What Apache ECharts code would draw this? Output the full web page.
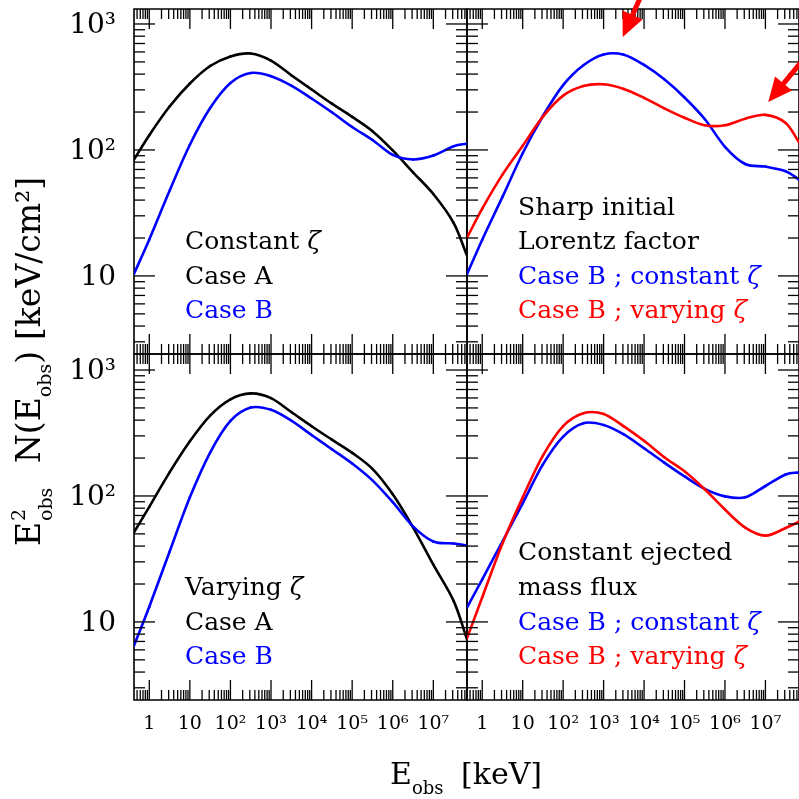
<!DOCTYPE html>
<html><head><meta charset="utf-8">
<script src="https://cdn.jsdelivr.net/npm/echarts@6/dist/echarts.min.js"></script>
<style>html,body{margin:0;padding:0;background:#fff;}#c{width:799px;height:799px;}</style>
</head><body><div id="c"></div>
<script>
// Observed energy grid (keV), half-decade steps
const energy = [0.42, 1, 3.16, 10, 31.6, 100, 316, 1000, 3160, 1e4, 3.16e4, 1e5, 3.16e5, 1e6, 3.16e6, 1e7, 3.16e7, 6.76e7];
// Top-left: constant zeta
const constZetaCaseA = [83.8, 131, 221, 337, 464, 553, 583, 512, 392, 302, 233, 183, 141, 99.3, 66.5, 44.7, 26.4, 14.5];
const constZetaCaseB = [10.4, 19.5, 47.4, 110, 215, 340, 408, 385, 324, 256, 199, 152, 120, 91.4, 84.1, 90.2, 107, 112];
// Top-right: sharp initial Lorentz factor
const sharpConstZeta = [10.3, 19.4, 42.4, 94.2, 186, 327, 470, 573, 571, 473, 364, 261, 176, 106, 77.4, 73.8, 67.8, 58.2];
const sharpVaryZeta = [20.1, 34.2, 63.7, 108, 184, 270, 322, 332, 305, 259, 214, 180, 157, 157, 177, 190, 164, 115];
// Bottom-left: varying zeta
const varyZetaCaseA = [51.5, 82, 154, 272, 435, 585, 652, 598, 464, 358, 280, 220, 164, 103, 56.4, 28.5, 14.7, 7.3];
const varyZetaCaseB = [6.49, 13.2, 36.1, 97.5, 221, 394, 503, 483, 396, 305, 235, 181, 133, 89.3, 57.4, 43.5, 42, 40.4];
// Bottom-right: constant ejected mass flux
const massFluxConstZeta = [13.0, 21.8, 43.5, 87.5, 178, 296, 378, 366, 308, 239, 184, 143, 114, 99.3, 97.5, 120, 148, 154];
const massFluxVaryZeta = [7.41, 15.7, 41.9, 97.5, 209, 359, 454, 448, 357, 274, 203, 157, 113, 78, 56.1, 48.4, 55.7, 62.5];

// Arrows in the top-right panel (data coords): [tailE, tailF, headE, headF]
const arrowPeak = [9772, 1862, 2972, 790];
const arrowBump = [1.12e8, 578, 1.175e7, 240];

// Tick values and labels
const xMajorTicks = [1, 10, 100, 1e3, 1e4, 1e5, 1e6, 1e7];
const xTickLabels = ['1', '10', '10²', '10³', '10⁴', '10⁵', '10⁶', '10⁷'];
const xDecades = [0.1, 1, 10, 100, 1e3, 1e4, 1e5, 1e6, 1e7];
const yMajorTicks = [10, 100, 1000];
const yTickLabels = ['10', '10²', '10³'];
const yDecades = [1, 10, 100, 1000];
const minorSteps = [2, 3, 4, 5, 6, 7, 8, 9];

const X_MIN = 0.42, X_MAX = 6.76e7, Y_MIN = 2.4;
const BLACK = '#000000', BLUE = '#0000ff', RED = '#ff0000';
const SERIF = '"DejaVu Serif"';

const panels = [
  {left: 134, top: 9, height: 345, yMax: 1315, xLab: false, yLab: true,
   lines: [[constZetaCaseA, BLACK], [constZetaCaseB, BLUE]]},
  {left: 467, top: 9, height: 345, yMax: 1315, xLab: false, yLab: false,
   lines: [[sharpConstZeta, BLUE], [sharpVaryZeta, RED]], arrows: [arrowPeak, arrowBump]},
  {left: 134, top: 354, height: 346, yMax: 1340, xLab: true, yLab: true,
   lines: [[varyZetaCaseA, BLACK], [varyZetaCaseB, BLUE]]},
  {left: 467, top: 354, height: 346, yMax: 1340, xLab: true, yLab: false,
   lines: [[massFluxConstZeta, BLUE], [massFluxVaryZeta, RED]]}
];

function buildTicks(yMax) {
  const t = [];
  xMajorTicks.forEach((v, i) => t.push({axis: 'x', v: v, major: true, label: xTickLabels[i]}));
  xDecades.forEach(d => minorSteps.forEach(m => {
    const v = d * m; if (v >= X_MIN && v <= X_MAX) t.push({axis: 'x', v: v, major: false});
  }));
  yMajorTicks.forEach((v, i) => t.push({axis: 'y', v: v, major: true, label: yTickLabels[i]}));
  yDecades.forEach(d => minorSteps.forEach(m => {
    const v = d * m; if (v >= Y_MIN && v <= yMax) t.push({axis: 'y', v: v, major: false});
  }));
  return t;
}

// Smooth curve through the data points (Catmull-Rom segments placed with the axes' own scale)
function curveSeries(i, arr, col) {
  const n = energy.length;
  return {type: 'custom', xAxisIndex: i, yAxisIndex: i, silent: true, clip: true, z: 3,
    data: energy.map((e, j) => [e, arr[j]]),
    renderItem: function (params, api) {
      const j = params.dataIndex;
      if (j >= n - 1) return null;
      const P = k => api.coord([energy[k], arr[k]]);
      const p1 = P(j), p2 = P(j + 1);
      const p0 = j > 0 ? P(j - 1) : [2 * p1[0] - p2[0], 2 * p1[1] - p2[1]];
      const p3 = j + 2 < n ? P(j + 2) : [2 * p2[0] - p1[0], 2 * p2[1] - p1[1]];
      return {type: 'bezierCurve', shape: {
          x1: p1[0], y1: p1[1], x2: p2[0], y2: p2[1],
          cpx1: p1[0] + (p2[0] - p0[0]) / 6, cpy1: p1[1] + (p2[1] - p0[1]) / 6,
          cpx2: p2[0] - (p3[0] - p1[0]) / 6, cpy2: p2[1] - (p3[1] - p1[1]) / 6},
        style: {stroke: col, lineWidth: 2.6, fill: null, lineCap: 'round'}};
    }};
}

const grid = [], xAxis = [], yAxis = [], series = [];
panels.forEach((p, i) => {
  grid.push({left: p.left, top: p.top, width: 333, height: p.height, show: true,
    borderColor: '#000', borderWidth: 1.6, backgroundColor: 'transparent'});
  xAxis.push({type: 'log', gridIndex: i, min: X_MIN, max: X_MAX, logBase: 10,
    axisLine: {show: false}, axisTick: {show: false}, axisLabel: {show: false}, splitLine: {show: false}});
  yAxis.push({type: 'log', gridIndex: i, min: Y_MIN, max: p.yMax, logBase: 10,
    axisLine: {show: false}, axisTick: {show: false}, axisLabel: {show: false}, splitLine: {show: false}});
  p.lines.forEach(([arr, col]) => series.push(curveSeries(i, arr, col)));
  if (p.arrows) {
    series.push({type: 'custom', xAxisIndex: i, yAxisIndex: i, silent: true, clip: false, z: 6,
      data: p.arrows,
      renderItem: function (params, api) {
        const t = api.coord([api.value(0), api.value(1)]);
        const h = api.coord([api.value(2), api.value(3)]);
        const dx = h[0] - t[0], dy = h[1] - t[1];
        const len = Math.sqrt(dx * dx + dy * dy), ux = dx / len, uy = dy / len;
        const AL = 24, AW = 11;
        const bx = h[0] - ux * AL, by = h[1] - uy * AL;
        return {type: 'group', children: [
          {type: 'line', shape: {x1: t[0], y1: t[1], x2: bx + ux * 2, y2: by + uy * 2},
           style: {stroke: RED, lineWidth: 5}},
          {type: 'polygon', shape: {points: [[h[0], h[1]], [bx - uy * AW, by + ux * AW], [bx + uy * AW, by - ux * AW]]},
           style: {fill: RED}}
        ]};
      }
    });
  }
  const ticks = buildTicks(p.yMax);
  series.push({type: 'custom', xAxisIndex: i, yAxisIndex: i, silent: true, clip: false, z: 5,
    data: ticks.map(o => o.axis === 'x' ? [o.v, 10] : [1, o.v]),
    renderItem: function (params, api) {
      const o = ticks[params.dataIndex];
      const cs = params.coordSys;
      const pt = api.coord([api.value(0), api.value(1)]);
      const ch = [];
      const st = {stroke: '#000', lineWidth: 1.3};
      if (o.axis === 'x') {
        const L = o.major ? 20 : 10;
        const b = cs.y + cs.height, t = cs.y;
        ch.push({type: 'line', shape: {x1: pt[0], y1: b, x2: pt[0], y2: b - L}, style: st});
        ch.push({type: 'line', shape: {x1: pt[0], y1: t, x2: pt[0], y2: t + L}, style: st});
        if (o.label && p.xLab) ch.push({type: 'text', style: {text: o.label, x: pt[0], y: b + 24,
          align: 'center', verticalAlign: 'middle', font: '19px ' + SERIF, fill: '#000'}});
      } else {
        const L = o.major ? 21 : 11;
        const l = cs.x, r = cs.x + cs.width;
        ch.push({type: 'line', shape: {x1: l, y1: pt[1], x2: l + L, y2: pt[1]}, style: st});
        ch.push({type: 'line', shape: {x1: r, y1: pt[1], x2: r - L, y2: pt[1]}, style: st});
        if (o.label && p.yLab) ch.push({type: 'text', style: {text: o.label, x: l - 18, y: pt[1] + 2,
          align: 'right', verticalAlign: 'middle', font: '28px ' + SERIF, fill: '#000'}});
      }
      return {type: 'group', children: ch};
    }
  });
});

function legendText(x, y, text, color) {
  return {type: 'text', x: x, y: y, silent: true, style: {text: text, fill: color,
    font: '25px ' + SERIF, verticalAlign: 'middle', align: 'left',
    rich: {z: {fontStyle: 'italic', fontFamily: 'DejaVu Serif', fontSize: 25, fill: color}}}};
}
const subRich = (size, sub) => ({
  m: {fontFamily: 'DejaVu Serif', fontSize: size, lineHeight: Math.round(size * 1.5), fill: '#000'},
  s: {fontFamily: 'DejaVu Serif', fontSize: sub, lineHeight: sub, verticalAlign: 'bottom', fill: '#000'}
});
const graphic = [
  legendText(185, 242, 'Constant {z|ζ}', BLACK),
  legendText(185, 277, 'Case A', BLACK),
  legendText(185, 311, 'Case B', BLUE),
  legendText(518, 208, 'Sharp initial', BLACK),
  legendText(518, 242, 'Lorentz factor', BLACK),
  legendText(518, 277, 'Case B ; constant {z|ζ}', BLUE),
  legendText(518, 311, 'Case B ; varying {z|ζ}', RED),
  legendText(185, 588, 'Varying {z|ζ}', BLACK),
  legendText(185, 623, 'Case A', BLACK),
  legendText(185, 657, 'Case B', BLUE),
  legendText(518, 553, 'Constant ejected', BLACK),
  legendText(518, 588, 'mass flux', BLACK),
  legendText(518, 623, 'Case B ; constant {z|ζ}', BLUE),
  legendText(518, 657, 'Case B ; varying {z|ζ}', RED),
  // x-axis title
  {type: 'text', x: 390, y: 776, silent: true, style: {
    text: '{m|E}{s|obs}', verticalAlign: 'middle', align: 'left', rich: subRich(30, 18)}},
  {type: 'text', x: 461, y: 776, silent: true, style: {
    text: '[keV]', font: '30px ' + SERIF, fill: '#000', verticalAlign: 'middle', align: 'left'}},
  // y-axis title (rotated to read upward)
  {type: 'group', x: 43, y: 546, rotation: Math.PI / 2, silent: true, children: [
    {type: 'text', x: 0, y: -12, style: {text: 'E', font: '33px ' + SERIF, fill: '#000', verticalAlign: 'middle', align: 'left'}},
    {type: 'text', x: 25, y: -23, style: {text: '2', font: '19px ' + SERIF, fill: '#000', verticalAlign: 'middle', align: 'left'}},
    {type: 'text', x: 25, y: 4, style: {text: 'obs', font: '19px ' + SERIF, fill: '#000', verticalAlign: 'middle', align: 'left'}},
    {type: 'text', x: 83, y: -12, style: {text: '{m|N(E}{s|obs}{m|)}', verticalAlign: 'middle', align: 'left', rich: subRich(33, 19)}},
    {type: 'text', x: 206, y: -12, style: {text: '[keV/cm²]', font: '33px ' + SERIF, fill: '#000', verticalAlign: 'middle', align: 'left'}}
  ]}
];

const chart = echarts.init(document.getElementById('c'), null, {renderer: 'canvas'});
chart.setOption({animation: false, backgroundColor: '#fff', grid, xAxis, yAxis, series, graphic});
</script></body></html>
